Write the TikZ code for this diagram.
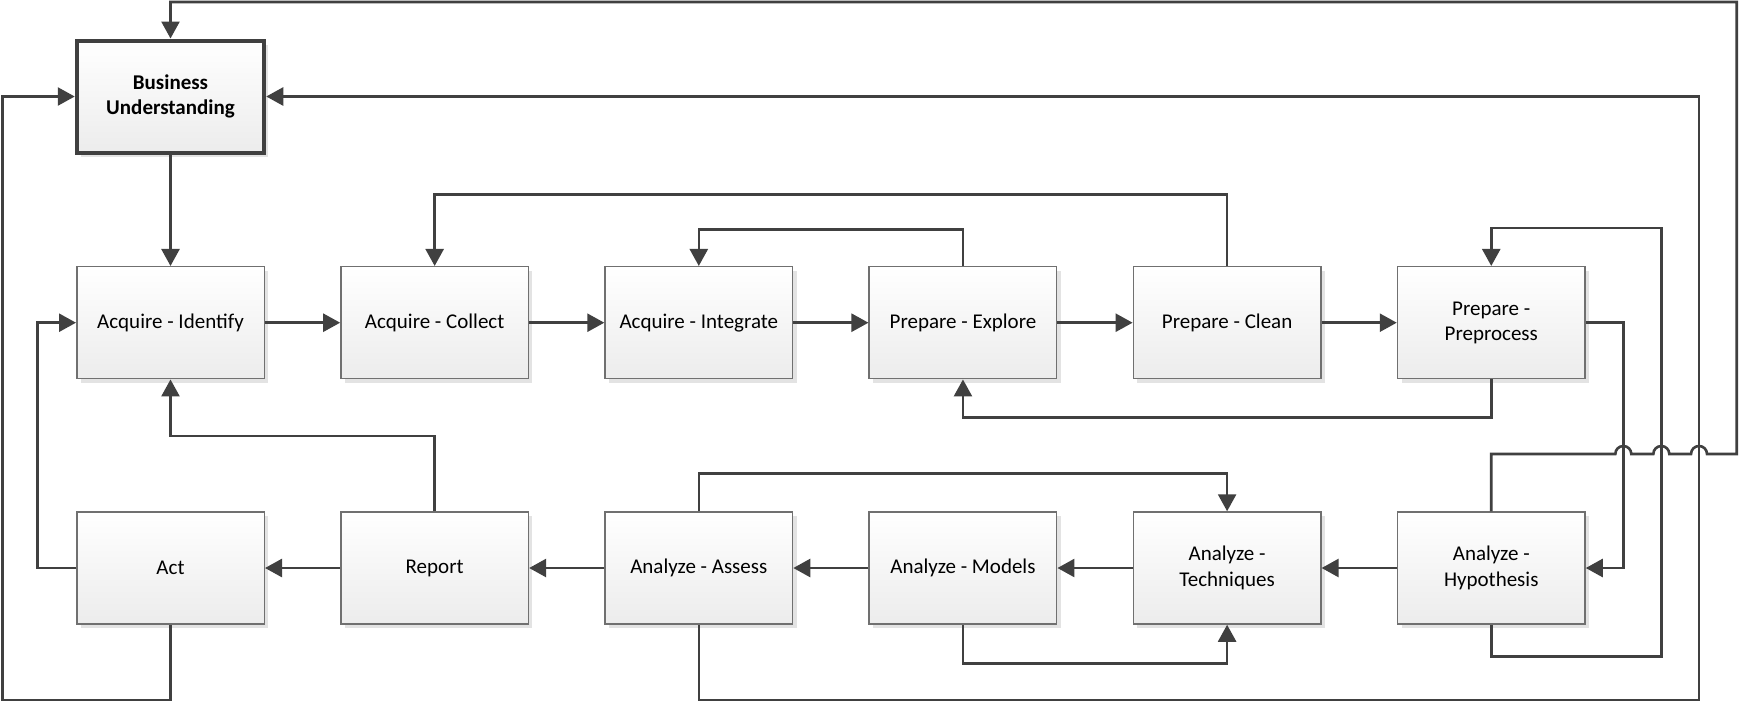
\documentclass[tikz,border=0pt]{standalone}
\usepackage{fontspec}
\setmainfont{Carlito}
\usetikzlibrary{arrows.meta,shadows}
\definecolor{linec}{HTML}{404040}
\definecolor{boxborder}{HTML}{707070}
\definecolor{boxbot}{HTML}{ECECEC}
\begin{document}
\begin{tikzpicture}[x=1pt,y=-1pt,
  stepbox/.style={rectangle, draw=boxborder, line width=1.5pt,
    minimum width=187.5pt, minimum height=112pt, inner sep=0pt,
    top color=white, bottom color=boxbot,
    drop shadow={shadow xshift=4pt, shadow yshift=-4pt, fill=black!11, opacity=1},
    align=center, font=\fontsize{21}{25.5}\selectfont, text=black},
  keybox/.style={stepbox, draw=linec, line width=4pt, font=\fontsize{21}{25.5}\selectfont\bfseries},
  conn/.style={draw=linec, line width=2.6pt},
  arr/.style={conn, -{Triangle[length=17pt,width=18pt]}}
]
\fill[white] (0,0) rectangle (1739,702);
\useasboundingbox (0,0) rectangle (1739,702);

% nodes
\node[keybox] (bu) at (170.5,96.5) {Business\\Understanding};
\node[stepbox] (idf) at (170.5,322.7) {Acquire - Identify};
\node[stepbox] (col) at (434.65,322.7) {Acquire - Collect};
\node[stepbox] (int) at (698.8,322.7) {Acquire - Integrate};
\node[stepbox] (exp) at (962.95,322.7) {Prepare - Explore};
\node[stepbox] (cle) at (1227.1,322.7) {Prepare - Clean};
\node[stepbox] (pre) at (1491.25,322.7) {Prepare -\\Preprocess};
\node[stepbox] (act) at (170.5,568) {Act};
\node[stepbox] (rep) at (434.65,568) {Report};
\node[stepbox] (ass) at (698.8,568) {Analyze - Assess};
\node[stepbox] (mod) at (962.95,568) {Analyze - Models};
\node[stepbox] (tec) at (1227.1,568) {Analyze -\\Techniques};
\node[stepbox] (hyp) at (1491.25,568) {Analyze -\\Hypothesis};

% straight flow
\draw[arr] (bu) -- (idf);
\draw[arr] (idf) -- (col);
\draw[arr] (col) -- (int);
\draw[arr] (int) -- (exp);
\draw[arr] (exp) -- (cle);
\draw[arr] (cle) -- (pre);
\draw[arr] (hyp) -- (tec);
\draw[arr] (tec) -- (mod);
\draw[arr] (mod) -- (ass);
\draw[arr] (ass) -- (rep);
\draw[arr] (rep) -- (act);

% loops in top row
\draw[arr] (cle.north) |- (434.65,194.3) -- (col.north);
\draw[arr] (exp.north) |- (698.8,229.3) -- (int.north);
\draw[arr] (pre.south) |- (962.95,417.7) -- (exp.south);

% loops in bottom row
\draw[arr] (ass.north) |- (1227.1,473.3) -- (tec.north);
\draw[arr] (mod.south) |- (1227.1,663.3) -- (tec.south);
\draw[arr] (rep.north) |- (170.5,436) -- (idf.south);
\draw[arr] (act.west) -| (37.7,322.7) -- (idf.west);

% right side channels
\draw[arr] (pre.east) -| (1623.3,568) -- (hyp.east);
\draw[arr] (hyp.south) |- (1661.3,656.7) |- (1491.25,228) -- (pre.north);
\draw[arr] (ass.south) |- (1699,700) |- (bu.east);
\draw[arr] (act.south) |- (2.3,700) |- (bu.west);

% long return with line hops
\draw[arr] (hyp.north) |- (1615.3,454)
  arc[start angle=180,end angle=0,radius=8pt]
  -- (1653.3,454) arc[start angle=180,end angle=0,radius=8pt]
  -- (1691,454) arc[start angle=180,end angle=0,radius=8pt]
  -- (1736.7,454) -- (1736.7,2) -| (bu.north);
\end{tikzpicture}
\end{document}
